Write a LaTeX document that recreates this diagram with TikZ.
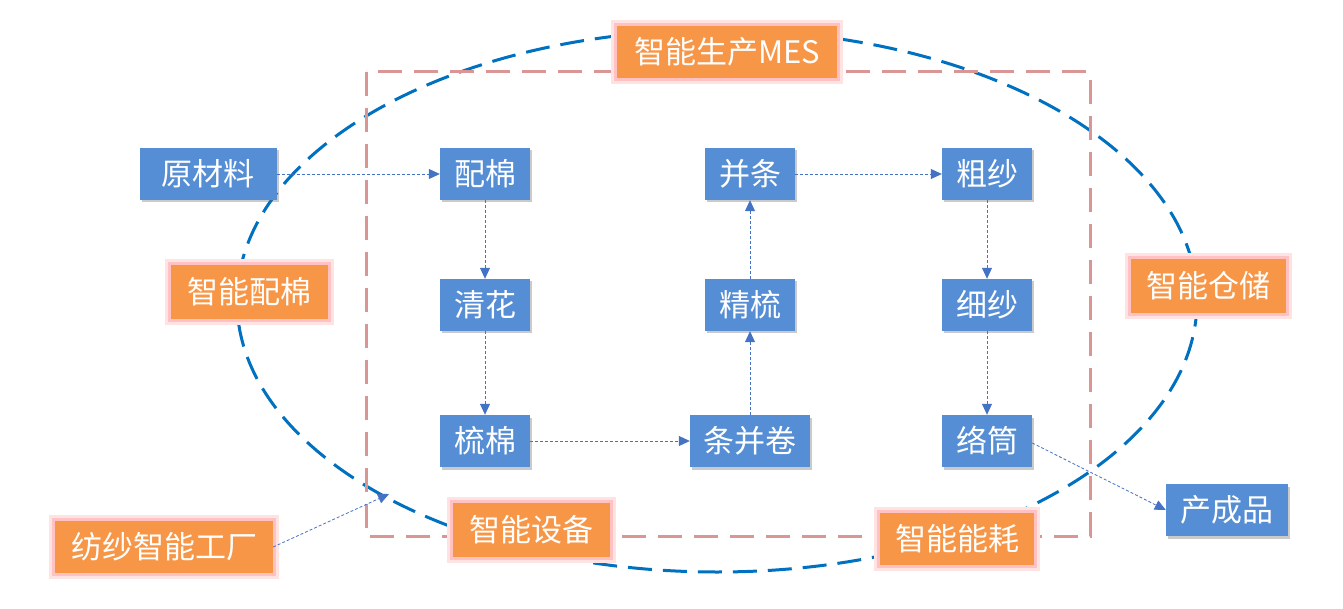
\documentclass[tikz,border=0pt]{standalone}
\usepackage{fontspec}
\setmainfont{Noto Sans CJK SC}
\usetikzlibrary{arrows.meta,shadows}
\definecolor{procblue}{RGB}{85,142,213}
\definecolor{tagorange}{RGB}{247,150,70}
\definecolor{glowpink}{RGB}{255,160,160}
\definecolor{ellblue}{RGB}{0,112,192}
\definecolor{rectpink}{RGB}{217,150,148}
\definecolor{arrblue}{RGB}{68,114,196}
\begin{document}
\begin{tikzpicture}[x=1pt,y=-1pt,
  proc/.style={rectangle, fill=procblue, text=white, inner sep=0pt,
    font=\fontsize{31pt}{34pt}\selectfont,
    drop shadow={shadow xshift=2pt, shadow yshift=-2.5pt, opacity=0.35, fill=black!60}},
  tagbox/.style={rectangle, fill=tagorange, text=white, inner sep=0pt,
    font=\fontsize{31pt}{34pt}\selectfont,
    preaction={draw=glowpink!30, line width=12pt},
    preaction={draw=glowpink!65, line width=6pt}},
  flow/.style={draw=arrblue, line width=0.8pt, dash pattern=on 3pt off 2pt,
    -{Triangle[length=11pt,width=10pt]}},
]
\useasboundingbox (0,0) rectangle (1343,609);
% big dashed ellipse and dashed rectangle
\draw[ellblue, line width=3pt, dash pattern=on 24pt off 11pt]
  (717,301) ellipse [x radius=480pt, y radius=271pt];
\draw[rectpink, line width=3pt, dash pattern=on 24pt off 12pt]
  (366,72) rectangle (1090,536);

% process nodes
\node[proc, minimum width=137pt, minimum height=52pt] (yuan) at (208,174) {原材料};
\node[proc, minimum width=90pt, minimum height=52pt] (pei) at (485,174) {配棉};
\node[proc, minimum width=90pt, minimum height=52pt] (qing) at (485,305) {清花};
\node[proc, minimum width=90pt, minimum height=52pt] (shu) at (485,441) {梳棉};
\node[proc, minimum width=120pt, minimum height=52pt] (tiao) at (750,441) {条并卷};
\node[proc, minimum width=90pt, minimum height=52pt] (jing) at (750,305) {精梳};
\node[proc, minimum width=90pt, minimum height=52pt] (bing) at (750,174) {并条};
\node[proc, minimum width=90pt, minimum height=52pt] (cu) at (987,174) {粗纱};
\node[proc, minimum width=90pt, minimum height=52pt] (xi) at (987,305) {细纱};
\node[proc, minimum width=90pt, minimum height=52pt] (luo) at (987,441) {络筒};
\node[proc, minimum width=122pt, minimum height=52pt] (chan) at (1227,510) {产成品};

% orange tags
\node[tagbox, minimum width=220pt, minimum height=52pt] (mes) at (727,52) {智能生产MES};
\node[tagbox, minimum width=157pt, minimum height=54pt] (tpei) at (249,292) {智能配棉};
\node[tagbox, minimum width=155pt, minimum height=54pt] (tcang) at (1208,286) {智能仓储};
\node[tagbox, minimum width=218pt, minimum height=52pt] (tfang) at (164,547) {纺纱智能工厂};
\node[tagbox, minimum width=157pt, minimum height=54pt] (tshe) at (531,530) {智能设备};
\node[tagbox, minimum width=154pt, minimum height=52pt] (tneng) at (957,539) {智能能耗};

\coordinate (ep) at (389,494);

% flow arrows
\draw[flow] (yuan) -- (pei);
\draw[flow] (pei) -- (qing);
\draw[flow] (qing) -- (shu);
\draw[flow] (shu) -- (tiao);
\draw[flow] (tiao) -- (jing);
\draw[flow] (jing) -- (bing);
\draw[flow] (bing) -- (cu);
\draw[flow] (cu) -- (xi);
\draw[flow] (xi) -- (luo);
\draw[flow] ([yshift=-2pt]luo.east) -- (chan.west);
\draw[flow] (tfang.east) -- (ep);
\end{tikzpicture}
\end{document}
